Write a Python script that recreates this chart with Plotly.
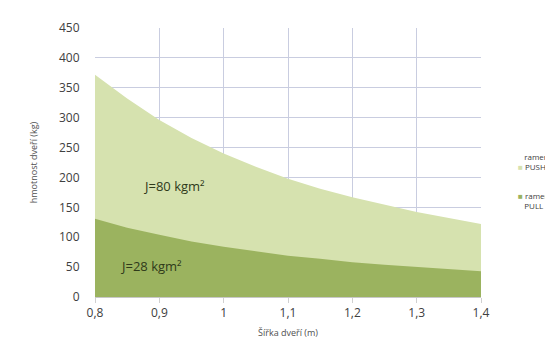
import plotly.graph_objects as go

# door width (m) and door mass limits (kg)
sirka = [0.8, 0.85, 0.9, 0.95, 1.0, 1.05, 1.1, 1.15, 1.2, 1.25, 1.3, 1.35, 1.4]
push_kg = [372, 332, 296, 266, 240, 218, 198, 181, 167, 154, 142, 132, 122]
pull_kg = [131, 116, 104, 93, 84, 76, 69, 64, 58, 54, 50, 46, 43]

light = "#d6e2af"
dark = "#9bb35f"

fig = go.Figure()

# light area first, dark one drawn over it
fig.add_trace(go.Scatter(
    x=sirka, y=push_kg, name="rameno PUSH", showlegend=False,
    mode="lines", line=dict(width=0, color=light),
    fill="tozeroy", fillcolor=light,
))
fig.add_trace(go.Scatter(
    x=sirka, y=pull_kg, name="rameno PULL", showlegend=False,
    mode="lines", line=dict(width=0, color=dark),
    fill="tozeroy", fillcolor=dark,
))

fig.add_annotation(x=0.872, y=186, text="J=80 kgm²", showarrow=False,
                   xanchor="left", font=dict(size=13, color="#2f3a1a"))
fig.add_annotation(x=0.836, y=52, text="J=28 kgm²", showarrow=False,
                   xanchor="left", font=dict(size=13, color="#2f3a1a"))

# legend drawn by hand (small squares close to the text, like the original)
leg_font = dict(size=8, color="#404040")
fig.add_annotation(xref="paper", yref="paper", x=1.09, y=0.505, xanchor="left",
                   yanchor="middle", showarrow=False, align="left", font=leg_font,
                   text="   rameno<br><span style='color:%s'>■</span> PUSH" % light)
fig.add_annotation(xref="paper", yref="paper", x=1.09, y=0.36, xanchor="left",
                   yanchor="middle", showarrow=False, align="left", font=leg_font,
                   text="<span style='color:%s'>■</span> rameno<br>   PULL" % dark)

grid = "#c9cde0"
fig.update_xaxes(
    range=[0.8, 1.4], tickvals=[0.8, 0.9, 1.0, 1.1, 1.2, 1.3, 1.4],
    ticktext=["0,8", "0,9", "1", "1,1", "1,2", "1,3", "1,4"],
    showgrid=True, gridcolor=grid, gridwidth=1, zeroline=False,
    showline=True, linecolor="#c8c8c8", ticks="outside", ticklen=5, tickcolor="#d0d0d0",
    tickfont=dict(size=12, color="#404040"),
    title=dict(text="Šířka dveří (m)", font=dict(size=9, color="#505050"), standoff=9),
)
fig.update_yaxes(
    range=[0, 450], dtick=50,
    showgrid=True, gridcolor=grid, gridwidth=1, zeroline=False,
    showline=False, ticks="outside", ticklen=12, tickcolor="white",
    tickfont=dict(size=12, color="#404040"),
    title=dict(text="hmotnost dveří (kg)", font=dict(size=9, color="#505050"), standoff=19),
)

fig.update_layout(
    width=553, height=340,
    margin=dict(l=87, r=80, t=20, b=51, autoexpand=False),
    paper_bgcolor="white", plot_bgcolor="white",
    font=dict(family="Open Sans, Liberation Sans, sans-serif"),
    showlegend=False,
)

fig.write_html("out.html")
